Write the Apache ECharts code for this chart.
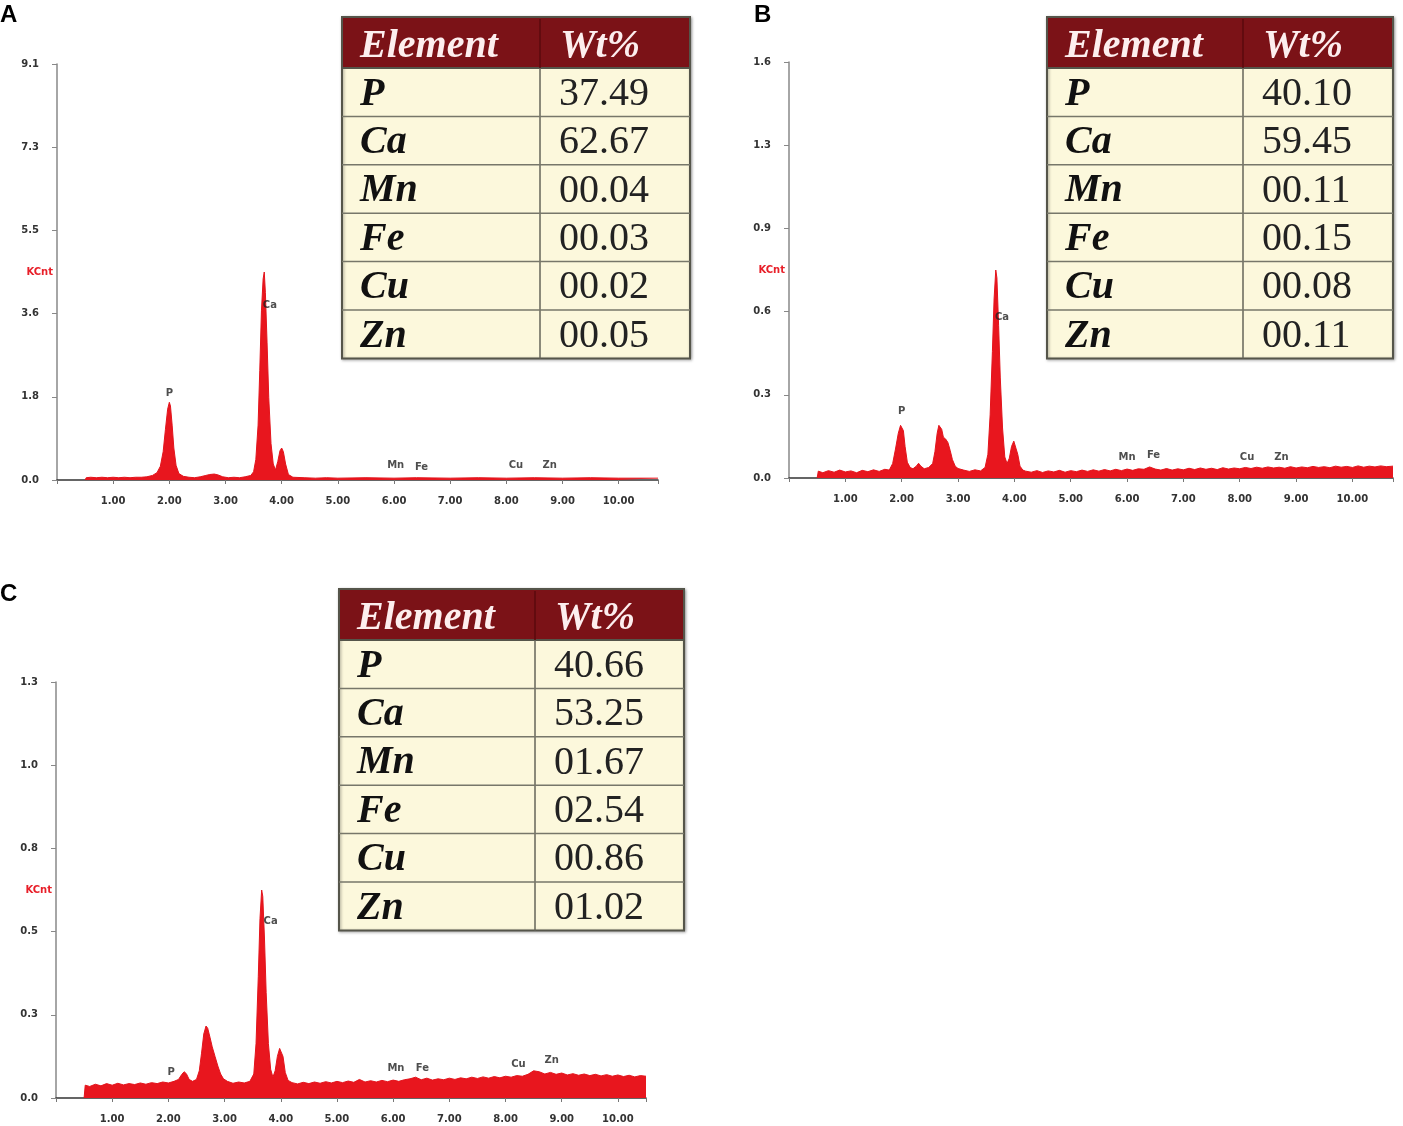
<!DOCTYPE html>
<html>
<head>
<meta charset="utf-8">
<script src="https://cdn.jsdelivr.net/npm/echarts@6/dist/echarts.min.js"></script>
<style>
html,body{margin:0;padding:0;background:#fff}
#main{width:1403px;height:1126px}
</style>
</head>
<body>
<div id="main"></div>
<script>
// element table
var elements = ['P', 'Ca', 'Mn', 'Fe', 'Cu', 'Zn'];
var wtA = ['37.49', '62.67', '00.04', '00.03', '00.02', '00.05'];
var wtB = ['40.10', '59.45', '00.11', '00.15', '00.08', '00.11'];
var wtC = ['40.66', '53.25', '01.67', '02.54', '00.86', '01.02'];

// y axis ranges (KCnt), 5 steps each
var yMaxA = 9.1, yMaxB = 1.58, yMaxC = 1.3;
var xMaxA = 10.7, xMaxB = 10.72, xMaxC = 10.5;

// spectra [keV, KCnt]
var spectrumA = [[0.50,0],[0.52,0.05],[0.6,0.06],[0.7,0.05],[0.8,0.06],[0.9,0.05],[1.0,0.06],[1.1,0.05],[1.2,0.06],[1.3,0.05],[1.4,0.06],[1.5,0.06],[1.6,0.07],[1.7,0.10],[1.78,0.16],[1.84,0.30],[1.89,0.62],[1.93,1.10],[1.97,1.55],[2.00,1.70],[2.02,1.62],[2.05,1.20],[2.08,0.70],[2.12,0.32],[2.17,0.14],[2.25,0.08],[2.35,0.06],[2.45,0.05],[2.55,0.07],[2.65,0.10],[2.72,0.12],[2.80,0.13],[2.87,0.11],[2.95,0.07],[3.05,0.05],[3.15,0.06],[3.25,0.05],[3.35,0.07],[3.45,0.10],[3.50,0.18],[3.54,0.45],[3.58,1.20],[3.61,2.40],[3.64,3.70],[3.67,4.40],[3.69,4.55],[3.71,4.10],[3.74,3.00],[3.77,1.80],[3.81,0.80],[3.85,0.35],[3.89,0.22],[3.93,0.40],[3.97,0.64],[4.00,0.70],[4.03,0.62],[4.07,0.35],[4.12,0.12],[4.20,0.06],[4.4,0.05],[4.6,0.04],[4.8,0.05],[5.0,0.04],[5.5,0.05],[6.0,0.04],[6.4,0.05],[7.0,0.04],[7.5,0.05],[8.0,0.04],[8.5,0.05],[9.0,0.04],[9.5,0.05],[10.0,0.04],[10.7,0.04]];

var spectrumB = [[0.50,0],[0.52,0.026],[0.6,0.020],[0.7,0.028],[0.8,0.022],[0.9,0.030],[1.0,0.023],[1.1,0.027],[1.2,0.020],[1.3,0.029],[1.4,0.024],[1.5,0.031],[1.6,0.025],[1.7,0.033],[1.78,0.030],[1.84,0.055],[1.89,0.11],[1.94,0.17],[1.98,0.200],[2.00,0.205],[2.03,0.18],[2.06,0.12],[2.10,0.06],[2.15,0.04],[2.20,0.035],[2.26,0.045],[2.30,0.056],[2.34,0.045],[2.40,0.035],[2.48,0.040],[2.55,0.055],[2.59,0.10],[2.63,0.17],[2.66,0.200],[2.68,0.207],[2.71,0.185],[2.74,0.155],[2.78,0.148],[2.82,0.135],[2.86,0.105],[2.90,0.070],[2.95,0.045],[3.00,0.036],[3.1,0.030],[3.2,0.025],[3.3,0.031],[3.4,0.027],[3.48,0.040],[3.53,0.09],[3.57,0.24],[3.61,0.48],[3.64,0.68],[3.67,0.790],[3.69,0.76],[3.72,0.58],[3.75,0.38],[3.79,0.19],[3.83,0.08],[3.87,0.055],[3.91,0.075],[3.95,0.12],[3.99,0.140],[4.02,0.135],[4.06,0.09],[4.10,0.045],[4.15,0.030],[4.2,0.026],[4.3,0.022],[4.4,0.028],[4.5,0.021],[4.6,0.027],[4.7,0.023],[4.8,0.029],[4.9,0.022],[5.0,0.028],[5.1,0.024],[5.2,0.030],[5.3,0.025],[5.4,0.031],[5.5,0.026],[5.6,0.032],[5.7,0.027],[5.8,0.033],[5.9,0.028],[6.0,0.034],[6.1,0.029],[6.2,0.035],[6.3,0.033],[6.4,0.042],[6.5,0.034],[6.6,0.030],[6.7,0.036],[6.8,0.030],[6.9,0.035],[7.0,0.031],[7.1,0.037],[7.2,0.032],[7.3,0.038],[7.4,0.033],[7.5,0.037],[7.6,0.032],[7.7,0.039],[7.8,0.034],[7.9,0.038],[8.0,0.035],[8.1,0.040],[8.2,0.036],[8.3,0.041],[8.4,0.037],[8.5,0.042],[8.6,0.038],[8.7,0.041],[8.8,0.037],[8.9,0.043],[9.0,0.038],[9.1,0.042],[9.2,0.039],[9.3,0.044],[9.4,0.040],[9.5,0.043],[9.6,0.039],[9.7,0.045],[9.8,0.041],[9.9,0.044],[10.0,0.040],[10.1,0.046],[10.2,0.041],[10.3,0.045],[10.4,0.042],[10.5,0.046],[10.6,0.043],[10.72,0.045]];

var spectrumC = [[0.50,0],[0.52,0.040],[0.6,0.036],[0.7,0.043],[0.8,0.038],[0.9,0.045],[1.0,0.040],[1.1,0.046],[1.2,0.041],[1.3,0.045],[1.4,0.042],[1.5,0.047],[1.6,0.043],[1.7,0.048],[1.8,0.045],[1.9,0.050],[2.0,0.047],[2.1,0.052],[2.18,0.058],[2.24,0.074],[2.28,0.082],[2.32,0.076],[2.37,0.058],[2.43,0.052],[2.50,0.058],[2.55,0.085],[2.59,0.14],[2.63,0.20],[2.67,0.225],[2.70,0.218],[2.74,0.19],[2.78,0.16],[2.83,0.13],[2.88,0.10],[2.93,0.075],[2.98,0.060],[3.05,0.052],[3.15,0.046],[3.25,0.050],[3.35,0.047],[3.45,0.052],[3.52,0.075],[3.56,0.17],[3.60,0.38],[3.63,0.56],[3.66,0.650],[3.68,0.63],[3.71,0.50],[3.74,0.33],[3.78,0.17],[3.82,0.09],[3.86,0.065],[3.90,0.085],[3.94,0.13],[3.98,0.155],[4.01,0.160],[4.04,0.13],[4.08,0.08],[4.13,0.055],[4.2,0.048],[4.3,0.044],[4.4,0.049],[4.5,0.045],[4.6,0.050],[4.7,0.046],[4.8,0.051],[4.9,0.047],[5.0,0.052],[5.1,0.048],[5.2,0.053],[5.3,0.049],[5.4,0.058],[5.5,0.050],[5.6,0.054],[5.7,0.050],[5.8,0.055],[5.9,0.051],[6.0,0.056],[6.1,0.052],[6.2,0.057],[6.3,0.060],[6.4,0.065],[6.5,0.057],[6.6,0.062],[6.7,0.056],[6.8,0.060],[6.9,0.057],[7.0,0.062],[7.1,0.058],[7.2,0.063],[7.3,0.060],[7.4,0.065],[7.5,0.061],[7.6,0.066],[7.7,0.062],[7.8,0.067],[7.9,0.063],[8.0,0.068],[8.1,0.065],[8.2,0.070],[8.3,0.068],[8.4,0.074],[8.5,0.085],[8.6,0.082],[8.7,0.075],[8.8,0.080],[8.9,0.074],[9.0,0.078],[9.1,0.072],[9.2,0.076],[9.3,0.071],[9.4,0.075],[9.5,0.070],[9.6,0.074],[9.7,0.069],[9.8,0.073],[9.9,0.068],[10.0,0.072],[10.1,0.067],[10.2,0.071],[10.3,0.066],[10.4,0.070],[10.5,0.068]];

// peak labels [keV, KCnt, name]
var peaksA = [[2.0,1.9,'P'],[3.79,3.82,'Ca'],[6.03,0.31,'Mn'],[6.49,0.28,'Fe'],[8.17,0.31,'Cu'],[8.77,0.31,'Zn']];
var peaksB = [[2.0,0.254,'P'],[3.78,0.61,'Ca'],[6.0,0.08,'Mn'],[6.47,0.087,'Fe'],[8.13,0.08,'Cu'],[8.74,0.08,'Zn']];
var peaksC = [[2.05,0.081,'P'],[3.82,0.553,'Ca'],[6.05,0.094,'Mn'],[6.52,0.094,'Fe'],[8.23,0.106,'Cu'],[8.82,0.119,'Zn']];

var myChart = echarts.init(document.getElementById('main'));

var grids = [
	{left: 57, top: 64, width: 601, height: 416, outerBoundsMode: 'none', containLabel: false},
	{left: 789, top: 62, width: 604, height: 416, outerBoundsMode: 'none', containLabel: false},
	{left: 56, top: 682, width: 590, height: 416, outerBoundsMode: 'none', containLabel: false}
];

function xAxisOf(i, max){
	return {
		type: 'value', gridIndex: i, min: 0, max: max, interval: 1,
		axisLine: {lineStyle: {color: '#333', width: 1.5}},
		axisTick: {show: true, length: 4, lineStyle: {color: '#777'}},
		splitLine: {show: false},
		axisLabel: {
			margin: 16, color: '#333', fontSize: 10, fontWeight: 'bold',
			fontFamily: 'DejaVu Sans',
			formatter: function(v){
				// only whole keV, no 0
				if (v === 0 || Math.abs(v - Math.round(v)) > 1e-6) return '';
				return v.toFixed(2);
			}
		}
	};
}

function yAxisOf(i, max){
	return {
		type: 'value', gridIndex: i, min: 0, max: max, interval: max / 5,
		name: 'KCnt', nameLocation: 'middle', nameRotate: 0, nameGap: 4,
		nameMoveOverlap: false,
		nameTextStyle: {color: '#e8202a', fontSize: 10, fontWeight: 'bold', fontFamily: 'DejaVu Sans'},
		axisLine: {show: true, lineStyle: {color: '#888', width: 1.5}},
		axisTick: {show: true, length: 5, lineStyle: {color: '#888'}},
		splitLine: {show: false},
		axisLabel: {
			margin: 18, color: '#333', fontSize: 10, fontWeight: 'bold',
			fontFamily: 'DejaVu Sans',
			formatter: function(v){ return v.toFixed(1); }
		}
	};
}

function spectrumSeries(i, data){
	return {
		type: 'line', xAxisIndex: i, yAxisIndex: i, data: data,
		symbol: 'none', silent: true,
		lineStyle: {color: '#e3141c', width: 1},
		areaStyle: {color: '#e8161e', opacity: 1},
		z: 2
	};
}

function peakSeries(i, data){
	return {
		type: 'scatter', xAxisIndex: i, yAxisIndex: i, data: data,
		symbolSize: 0, silent: true, z: 3,
		label: {
			show: true, position: 'inside', color: '#222', fontSize: 10,
			fontWeight: 'bold', fontFamily: 'DejaVu Sans',
			formatter: function(p){ return p.value[2]; }
		}
	};
}

// 表格
function tableGraphic(x0, y0, w, split, values){
	var headH = 51, rowH = 48.4;
	var h = headH + rowH * elements.length;
	var g = [];
	g.push({type: 'rect', shape: {x: x0, y: y0, width: w, height: h},
		style: {fill: '#fcf8dc', stroke: '#55554a', lineWidth: 2, shadowBlur: 3, shadowColor: 'rgba(0,0,0,0.35)', shadowOffsetX: 1, shadowOffsetY: 1}});
	g.push({type: 'rect', shape: {x: x0, y: y0, width: w, height: headH},
		style: {fill: '#7b1217', stroke: '#55554a', lineWidth: 2}});
	g.push({type: 'line', shape: {x1: x0 + split, y1: y0 + 2, x2: x0 + split, y2: y0 + headH},
		style: {stroke: '#5a0a0e', lineWidth: 1.5}});
	g.push({type: 'line', shape: {x1: x0 + split, y1: y0 + headH, x2: x0 + split, y2: y0 + h},
		style: {stroke: '#66665a', lineWidth: 1.5}});
	for (var i = 1; i < elements.length; i++) {
		g.push({type: 'line', shape: {x1: x0, y1: y0 + headH + i * rowH, x2: x0 + w, y2: y0 + headH + i * rowH},
			style: {stroke: '#77776a', lineWidth: 1.5}});
	}
	var headFont = {fill: '#fdeeee', fontSize: 40, fontWeight: 'bold', fontStyle: 'italic', fontFamily: 'Liberation Serif', verticalAlign: 'middle'};
	g.push({type: 'text', x: x0 + 18, y: y0 + headH / 2 + 4, style: echarts.util.extend({text: 'Element', align: 'left'}, headFont)});
	g.push({type: 'text', x: x0 + split + 20, y: y0 + headH / 2 + 4, style: echarts.util.extend({text: 'Wt%', align: 'left'}, headFont)});
	for (var j = 0; j < elements.length; j++) {
		var cy = y0 + headH + (j + 0.5) * rowH + 2;
		g.push({type: 'text', x: x0 + 18, y: cy, style: {text: elements[j], fill: '#111', fontSize: 40,
			fontWeight: 'bold', fontStyle: 'italic', fontFamily: 'Liberation Serif', align: 'left', verticalAlign: 'middle'}});
		g.push({type: 'text', x: x0 + split + 19, y: cy, style: {text: values[j], fill: '#222', fontSize: 40,
			fontFamily: 'Liberation Serif', align: 'left', verticalAlign: 'middle'}});
	}
	return g;
}

function letter(t, x, y){
	return {type: 'text', x: x, y: y, style: {text: t, fill: '#000', fontSize: 24, fontWeight: 'bold',
		fontFamily: 'Liberation Sans', align: 'left', verticalAlign: 'top'}};
}

var graphics = [letter('A', 0, 3), letter('B', 754, 3), letter('C', 0, 582)]
	.concat(tableGraphic(342, 17, 348, 198, wtA))
	.concat(tableGraphic(1047, 17, 346, 196, wtB))
	.concat(tableGraphic(339, 589, 345, 196, wtC));

var option = {
	backgroundColor: '#fff',
	animation: false,
	grid: grids,
	xAxis: [xAxisOf(0, xMaxA), xAxisOf(1, xMaxB), xAxisOf(2, xMaxC)],
	yAxis: [yAxisOf(0, yMaxA), yAxisOf(1, yMaxB), yAxisOf(2, yMaxC)],
	series: [
		spectrumSeries(0, spectrumA), peakSeries(0, peaksA),
		spectrumSeries(1, spectrumB), peakSeries(1, peaksB),
		spectrumSeries(2, spectrumC), peakSeries(2, peaksC)
	],
	graphic: graphics
};
myChart.setOption(option);
</script>
</body>
</html>
